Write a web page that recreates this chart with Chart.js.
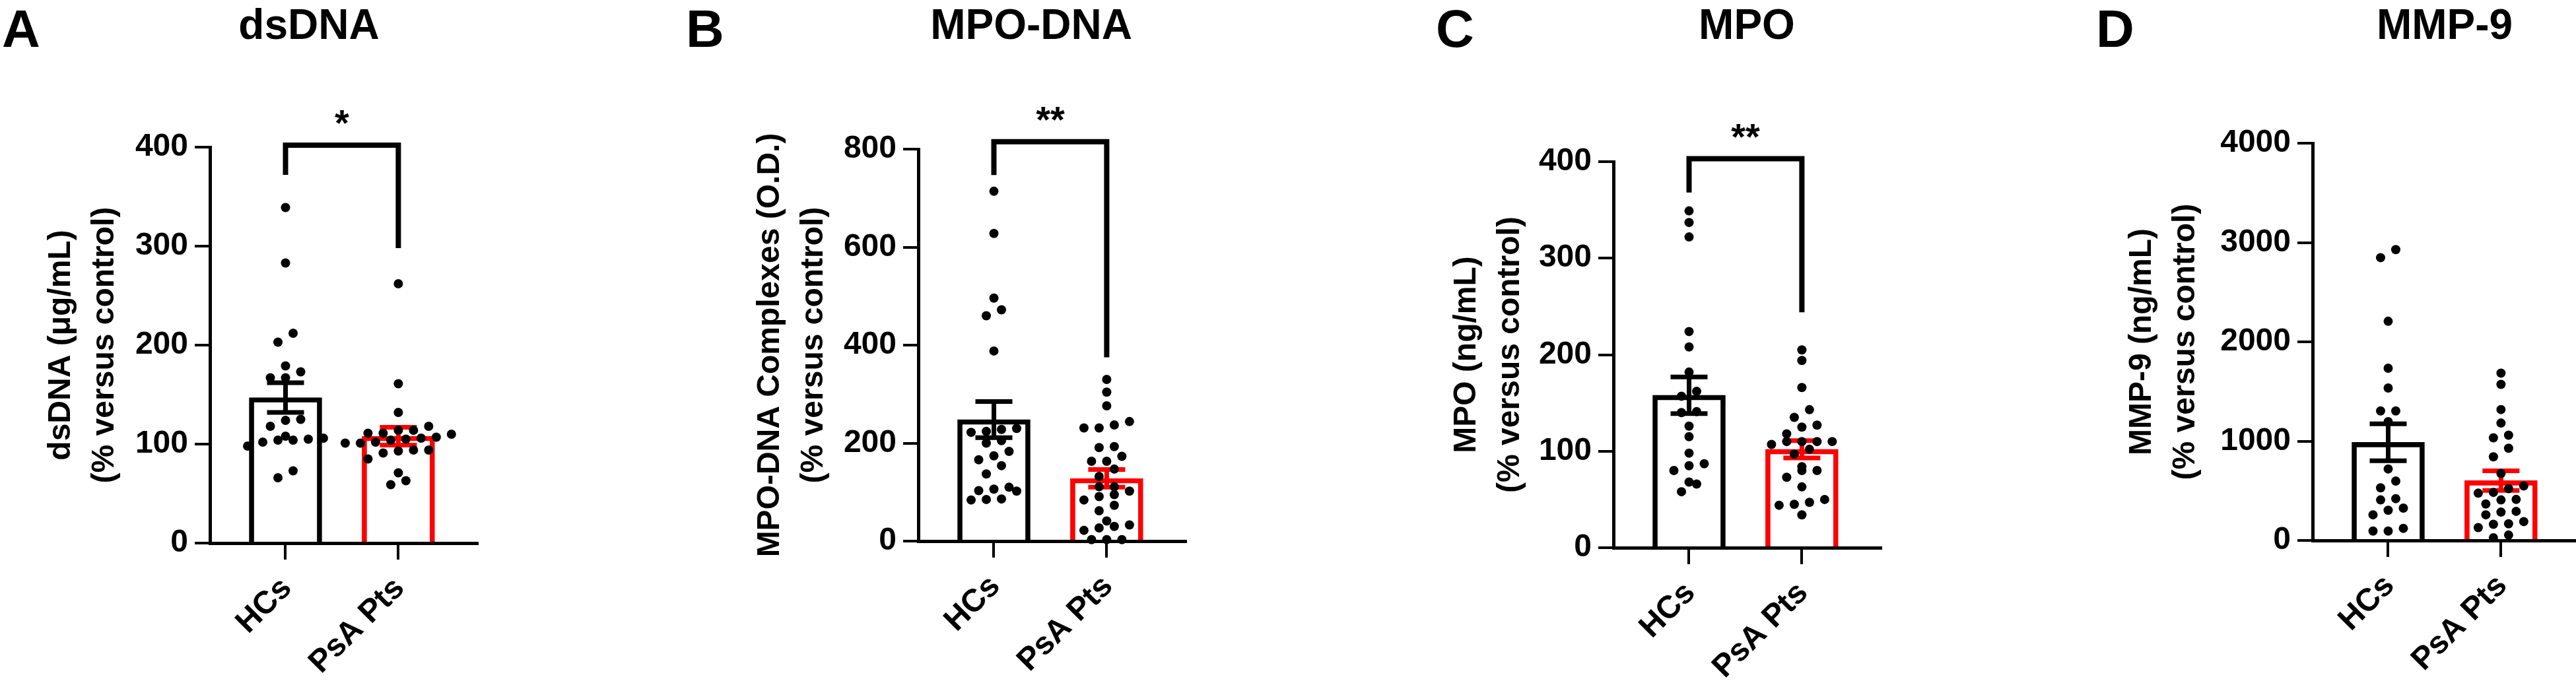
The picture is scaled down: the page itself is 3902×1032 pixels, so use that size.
<!DOCTYPE html>
<html>
<head>
<meta charset="utf-8">
<script src="https://cdn.jsdelivr.net/npm/chart.js@4.4.1/dist/chart.umd.min.js"></script>
<style>
  html, body { margin: 0; padding: 0; background: #fff; overflow: hidden; }
  body { width: 3902px; height: 1032px; position: relative; font-family: "Liberation Sans", Arial, sans-serif; font-weight: bold; color: #000; }
  canvas { position: absolute; top: 0; }
  .letter { position: absolute; top: 4px; font-size: 80px; line-height: 1; }
  .title { position: absolute; top: 5px; width: 600px; text-align: center; font-size: 64px; line-height: 1; }
</style>
</head>
<body>
<div class="letter" style="left:3px">A</div>
<div class="letter" style="left:1039px">B</div>
<div class="letter" style="left:2175px">C</div>
<div class="letter" style="left:3175px">D</div>
<div class="title" style="left:168px">dsDNA</div>
<div class="title" style="left:1262px">MPO-DNA</div>
<div class="title" style="left:2346px">MPO</div>
<div class="title" style="left:3403px">MMP-9</div>

<canvas id="chartA" width="800" height="1032" style="left:0px"></canvas>
<canvas id="chartB" width="900" height="1032" style="left:1000px"></canvas>
<canvas id="chartC" width="950" height="1032" style="left:2000px"></canvas>
<canvas id="chartD" width="1000" height="1032" style="left:2950px"></canvas>

<script>
const groups = ['HCs', 'PsA Pts'];
const groupColors = ['#000000', '#ff0000'];

// A: dsDNA
const dsdnaHCs = [339, 283, 212, 203, 179, 173, 167, 167, 124, 125, 118, 108, 105, 106, 104, 102, 104, 98, 73, 66];
const dsdnaPsA = [262, 161, 132, 118, 114, 114, 110, 111, 111, 107, 104, 105, 106, 101, 102, 101, 94, 94, 91, 93, 85, 71, 63, 59];
const dsdnaMean = [147, 108];
const dsdnaSem = [15, 9];
const dsdnaTicks = [0, 100, 200, 300, 400];
const dsdnaBracket = [372, 402, 298];

// B: MPO-DNA
const mpodnaHCs = [714, 628, 496, 472, 460, 388, 230, 228, 224, 222, 205, 200, 183, 174, 166, 154, 137, 110, 106, 103, 102, 86, 85, 84];
const mpodnaPsA = [330, 304, 276, 244, 237, 231, 231, 193, 191, 173, 163, 163, 147, 132, 111, 111, 102, 95, 91, 84, 73, 62, 41, 33, 30, 27, 22, 3, 3, 3];
const mpodnaMean = [248, 128];
const mpodnaSem = [37, 18];
const mpodnaTicks = [0, 200, 400, 600, 800];
const mpodnaBracket = [747, 815, 375];

// C: MPO
const mpoHCs = [349, 337, 322, 224, 208, 182, 162, 157, 141, 140, 126, 115, 98, 87, 85, 80, 68, 66, 58];
const mpoPsA = [205, 194, 166, 143, 135, 127, 125, 118, 110, 110, 110, 110, 107, 102, 97, 84, 80, 80, 73, 63, 50, 47, 45, 44, 34];
const mpoMean = [158, 102];
const mpoSem = [19, 9];
const mpoTicks = [0, 100, 200, 300, 400];
const mpoBracket = [368, 403, 244];

// D: MMP-9
const mmp9HCs = [2929, 2848, 2207, 1734, 1535, 1304, 1304, 1196, 720, 598, 530, 421, 408, 326, 304, 258, 122, 95, 95];
const mmp9PsA = [1685, 1571, 1318, 1182, 1060, 1033, 929, 842, 674, 549, 522, 484, 476, 413, 408, 367, 293, 285, 258, 190, 168, 163, 130, 54, 27];
const mmp9Mean = [988, 602];
const mmp9Sem = [186, 99];
const mmp9Ticks = [0, 1000, 2000, 3000, 4000];

Chart.defaults.font.family = '"Liberation Sans", Arial, sans-serif';
Chart.defaults.font.weight = 'bold';
Chart.defaults.color = '#000';

const X_MIN = 0.33, X_MAX = 2.7, PLOT_W = 405;
const DOT = 14, DOT_STEP = 23 / 171;

// prism-like rows: dots closer than one diameter sit side by side
function swarm(values, center, pxPerUnit) {
  const sorted = values.slice().sort((a, b) => a - b);
  const pts = [];
  let i = 0;
  while (i < sorted.length) {
    let j = i;
    while (j + 1 < sorted.length && (sorted[j + 1] - sorted[i]) * pxPerUnit < DOT) j++;
    const n = j - i + 1;
    for (let k = 0; k < n; k++) {
      pts.push({ x: center + (k - (n - 1) / 2) * DOT_STEP, y: sorted[i + k] });
    }
    i = j + 1;
  }
  return pts;
}

const panelMarks = {
  id: 'panelMarks',
  afterDatasetDraw(chart, args, opts) {
    if (args.index !== 1) return;
    const { ctx, scales: { x, y } } = chart;
    ctx.save();
    ctx.lineWidth = 7;
    opts.mean.forEach((m, i) => {
      const cx = x.getPixelForValue(i + 1);
      const hi = y.getPixelForValue(m + opts.sem[i]);
      const lo = y.getPixelForValue(m - opts.sem[i]);
      ctx.strokeStyle = groupColors[i];
      ctx.beginPath();
      ctx.moveTo(cx, hi); ctx.lineTo(cx, lo);
      ctx.moveTo(cx - 28, hi); ctx.lineTo(cx + 28, hi);
      ctx.moveTo(cx - 28, lo); ctx.lineTo(cx + 28, lo);
      ctx.stroke();
    });
    ctx.restore();
  },
  afterDraw(chart, args, opts) {
    const b = opts.bracket;
    if (!b) return;
    const { ctx, scales: { x, y } } = chart;
    const x1 = x.getPixelForValue(1), x2 = x.getPixelForValue(2);
    const yt = y.getPixelForValue(b[1]);
    ctx.save();
    ctx.strokeStyle = '#000';
    ctx.lineWidth = 8;
    ctx.lineJoin = 'miter';
    ctx.beginPath();
    ctx.moveTo(x1, y.getPixelForValue(b[0]));
    ctx.lineTo(x1, yt);
    ctx.lineTo(x2, yt);
    ctx.lineTo(x2, y.getPixelForValue(b[2]));
    ctx.stroke();
    ctx.fillStyle = '#000';
    ctx.font = 'bold 56px "Liberation Sans", Arial, sans-serif';
    ctx.textAlign = 'center';
    ctx.fillText(opts.stars, (x1 + x2) / 2, yt - 15);
    ctx.restore();
  }
};

function makePanel(id, lay, hcs, psa, mean, sem, ticks, yTitle, bracket, stars) {
  const yMax = ticks[ticks.length - 1];
  const pxPerUnit = (lay.zero - lay.top) / yMax;
  const dots = swarm(hcs, 1, pxPerUnit).concat(swarm(psa, 2, pxPerUnit));
  const canvas = document.getElementById(id);
  const xAxisH = canvas.height - lay.zero;
  return new Chart(canvas.getContext('2d'), {
    type: 'bar',
    data: {
      datasets: [
        {
          type: 'scatter',
          data: dots,
          order: 0,
          clip: false,
          pointRadius: DOT / 2,
          pointBackgroundColor: '#000',
          pointBorderWidth: 0
        },
        {
          type: 'bar',
          data: mean.map((m, i) => ({ x: i + 1, y: m })),
          order: 1,
          barThickness: 110,
          borderWidth: 7,
          borderColor: groupColors,
          backgroundColor: 'rgba(255,255,255,0)'
        }
      ]
    },
    options: {
      responsive: false,
      animation: false,
      events: [],
      layout: {
        padding: {
          top: lay.top,
          bottom: 0,
          left: 0,
          right: lay.left + canvas.width - (lay.axisX + PLOT_W)
        }
      },
      plugins: {
        legend: { display: false },
        tooltip: { enabled: false },
        panelMarks: { mean, sem, bracket, stars }
      },
      scales: {
        x: {
          type: 'linear',
          min: X_MIN,
          max: X_MAX,
          offset: false,
          afterBuildTicks: s => { s.ticks = groups.map((g, i) => ({ value: i + 1 })); },
          afterFit: s => { s.height = xAxisH; },
          grid: { offset: false, drawOnChartArea: false, drawTicks: true, tickLength: 25, lineWidth: 4, color: '#000' },
          border: { display: true, width: 5, color: '#000' },
          ticks: {
            color: '#000',
            font: { size: 48, weight: 'bold' },
            minRotation: 45,
            maxRotation: 45,
            autoSkip: false,
            padding: 16,
            labelOffset: 2,
            callback: v => groups[v - 1]
          }
        },
        y: {
          min: 0,
          max: yMax,
          afterBuildTicks: s => { s.ticks = ticks.map(v => ({ value: v })); },
          afterFit: s => { s.width = lay.axisX - lay.left; },
          grid: { drawOnChartArea: false, drawTicks: true, tickLength: 23, lineWidth: 4, color: '#000' },
          border: { display: true, width: 5, color: '#000' },
          ticks: { color: '#000', font: { size: 48, weight: 'bold' }, padding: 10, callback: v => String(v) },
          title: {
            display: true,
            text: yTitle,
            color: '#000',
            font: { size: 48, weight: 'bold', lineHeight: 1.375 },
            padding: { top: lay.titleX - 103 - lay.left, bottom: 0 }
          }
        }
      }
    },
    plugins: [panelMarks]
  });
}

makePanel('chartA', { left: 0, axisX: 318, top: 223, zero: 823, titleX: 163 },
  dsdnaHCs, dsdnaPsA, dsdnaMean, dsdnaSem, dsdnaTicks,
  ['dsDNA (μg/mL)', '(% versus control)'], dsdnaBracket, '*');
makePanel('chartB', { left: 1000, axisX: 1391, top: 226, zero: 820, titleX: 1237 },
  mpodnaHCs, mpodnaPsA, mpodnaMean, mpodnaSem, mpodnaTicks,
  ['MPO-DNA Complexes (O.D.)', '(% versus control)'], mpodnaBracket, '**');
makePanel('chartC', { left: 2000, axisX: 2444, top: 245, zero: 830, titleX: 2292 },
  mpoHCs, mpoPsA, mpoMean, mpoSem, mpoTicks,
  ['MPO (ng/mL)', '(% versus control)'], mpoBracket, '**');
makePanel('chartD', { left: 2950, axisX: 3503, top: 217, zero: 819, titleX: 3315 },
  mmp9HCs, mmp9PsA, mmp9Mean, mmp9Sem, mmp9Ticks,
  ['MMP-9 (ng/mL)', '(% versus control)'], null, '');
</script>
</body>
</html>
